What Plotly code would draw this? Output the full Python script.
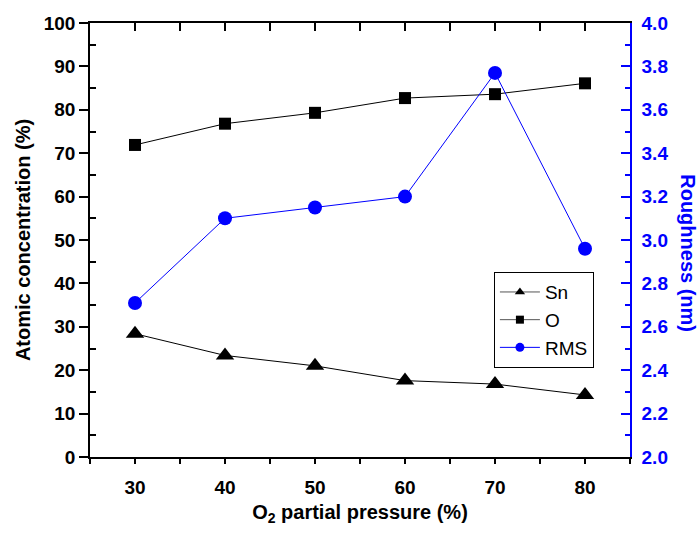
import plotly.graph_objects as go

pressure = [30, 40, 50, 60, 70, 80]
sn = [28.4, 23.4, 21.0, 17.6, 16.8, 14.3]
o = [71.9, 76.8, 79.3, 82.7, 83.6, 86.1]
rms = [2.71, 3.10, 3.15, 3.20, 3.77, 2.96]

BLUE = "#0000FF"
FONT = "Liberation Sans, Arial, sans-serif"

fig = go.Figure()
fig.add_trace(go.Scatter(x=pressure, y=sn, name="Sn", mode="lines+markers",
                         showlegend=False,
                         line=dict(color="black", width=1),
                         marker=dict(symbol="triangle-up", size=16, color="black")))
fig.add_trace(go.Scatter(x=pressure, y=o, name="O", mode="lines+markers",
                         showlegend=False,
                         line=dict(color="black", width=1),
                         marker=dict(symbol="square", size=12, color="black")))
fig.add_trace(go.Scatter(x=pressure, y=rms, name="RMS", mode="lines+markers",
                         yaxis="y2", showlegend=False,
                         line=dict(color=BLUE, width=1),
                         marker=dict(symbol="circle", size=14, color=BLUE)))

# legend entries (smaller symbols, as in the reference legend)
fig.add_trace(go.Scatter(x=[None], y=[None], name="Sn", mode="lines+markers",
                         line=dict(color="#555555", width=1),
                         marker=dict(symbol="triangle-up", size=9, color="black")))
fig.add_trace(go.Scatter(x=[None], y=[None], name="O", mode="lines+markers",
                         line=dict(color="#555555", width=1),
                         marker=dict(symbol="square", size=8, color="black")))
fig.add_trace(go.Scatter(x=[None], y=[None], name="RMS", mode="lines+markers",
                         yaxis="y2",
                         line=dict(color=BLUE, width=1),
                         marker=dict(symbol="circle", size=9, color=BLUE)))

# helper trace for the top axis (inside ticks)
fig.add_trace(go.Scatter(x=[None], y=[None], xaxis="x2", yaxis="y",
                         showlegend=False, hoverinfo="skip"))

tickfont = dict(family=FONT, size=19, color="black", weight="bold")
titlefont = dict(family=FONT, size=20, color="black", weight="bold")

fig.update_layout(
    width=698, height=534,
    margin=dict(l=90, r=68, t=23, b=77),
    paper_bgcolor="white", plot_bgcolor="white",
    font=dict(family=FONT, color="black"),
    xaxis=dict(
        range=[25, 85], tickvals=[30, 40, 50, 60, 70, 80],
        ticks="outside", ticklen=5, tickwidth=1.5, tickcolor="black",
        minor=dict(tickvals=[25, 35, 45, 55, 65, 75, 85], ticks="outside",
                   ticklen=5, tickwidth=1.5, tickcolor="black"),
        showline=True, linecolor="black", linewidth=1.5,
        showgrid=False, zeroline=False,
        tickfont=tickfont, ticklabelstandoff=7,
        title=dict(text="O<sub>2</sub> partial pressure (%)",
                   font=titlefont, standoff=8),
    ),
    xaxis2=dict(
        overlaying="x", side="top", matches="x", range=[25, 85],
        tickvals=[30, 35, 40, 45, 50, 55, 60, 65, 70, 75, 80],
        ticks="inside", ticklen=8, tickwidth=1.5, tickcolor="black",
        showticklabels=False, showline=True, linecolor="black", linewidth=1.5,
        showgrid=False, zeroline=False,
    ),
    yaxis=dict(
        range=[0, 100], tickvals=list(range(0, 101, 10)),
        ticks="outside", ticklen=9, tickwidth=1.5, tickcolor="black",
        minor=dict(tickvals=list(range(5, 100, 10)), ticks="inside",
                   ticklen=6, tickwidth=1.5, tickcolor="black"),
        showline=True, linecolor="black", linewidth=1.5,
        showgrid=False, zeroline=False,
        tickfont=tickfont,
        title=dict(text="Atomic concentration (%)", font=titlefont, standoff=8),
    ),
    yaxis2=dict(
        overlaying="y", side="right", range=[2.0, 4.0],
        tickvals=[2.0, 2.2, 2.4, 2.6, 2.8, 3.0, 3.2, 3.4, 3.6, 3.8, 4.0],
        ticktext=["2.0", "2.2", "2.4", "2.6", "2.8", "3.0", "3.2", "3.4", "3.6", "3.8", "4.0"],
        ticks="inside", ticklen=9, tickwidth=1.5, tickcolor=BLUE,
        minor=dict(tickvals=[2.1, 2.3, 2.5, 2.7, 2.9, 3.1, 3.3, 3.5, 3.7, 3.9],
                   ticks="inside", ticklen=5, tickwidth=1.5, tickcolor=BLUE),
        showline=True, linecolor=BLUE, linewidth=1.5,
        showgrid=False, zeroline=False,
        tickfont=dict(family=FONT, size=19, color=BLUE, weight="bold"),
        ticklabelstandoff=6,
    ),
    legend=dict(
        x=0.748, y=0.426, xanchor="left", yanchor="top",
        bgcolor="white", bordercolor="black", borderwidth=1,
        font=dict(family=FONT, size=19, color="black"),
        tracegroupgap=0, itemwidth=40,
    ),
    showlegend=True,
)

fig.add_annotation(
    text="Roughness (nm)", xref="paper", yref="paper",
    x=1.107, y=0.47, xanchor="center", yanchor="middle",
    textangle=90, showarrow=False,
    font=dict(family=FONT, size=20, color=BLUE, weight="bold"),
)

fig.write_html("out.html")
